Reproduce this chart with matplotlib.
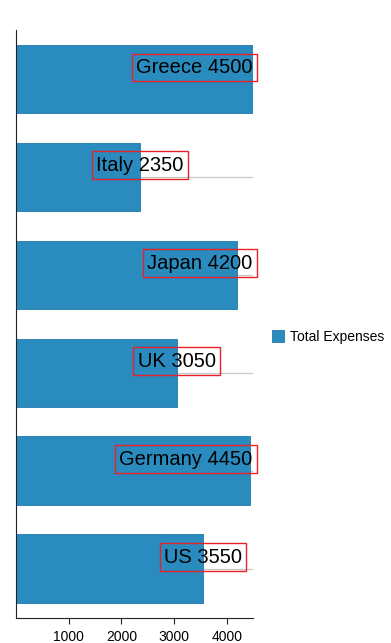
import matplotlib
matplotlib.use("Agg")
import matplotlib.pyplot as plt

# values
countries = ["Greece", "Italy", "Japan", "UK", "Germany", "US"]
expenses = [4500, 2350, 4200, 3050, 4450, 3550]
xticks = [1000, 2000, 3000, 4000]

plt.rcParams['font.family'] = ['Liberation Sans', 'DejaVu Sans']

fig = plt.figure(figsize=(3.91, 6.43), dpi=100)
ax = fig.add_axes([16 / 391, 25.3 / 643, 237 / 391, 587.7 / 643])

pos = list(range(len(countries)))
bar_color = '#2a8bbe'
label_dy = 8.3  # points above the bar centre

# thin grey guide line through each band
for p in pos:
    ax.plot([0, 4500], [p, p], color='#c8c8c8', lw=0.9, zorder=1)

bars = ax.barh(pos, expenses, height=0.7, color=bar_color, edgecolor='#1f78aa',
               linewidth=0.6, zorder=2, label='Total Expenses')

ax.set_xlim(0, 4500)
ax.set_ylim(len(countries) - 0.5, -0.5)
ax.set_yticks([])
ax.set_xticks(xticks)
ax.set_xticklabels([str(t) for t in xticks], fontsize=10)
ax.tick_params(axis='x', direction='out', length=4.5, width=0.8, pad=4, color='#222222')
ax.spines['top'].set_visible(False)
ax.spines['right'].set_visible(False)
ax.spines['left'].set_color('#222222')
ax.spines['bottom'].set_color('#222222')

labels = []
for p, name, val in zip(pos, countries, expenses):
    t = ax.annotate(f"{name} {val}", xy=(val, p), xytext=(0, label_dy), textcoords='offset points',
                    ha='center', va='center', fontsize=14.5, color='black', zorder=4,
                    bbox=dict(boxstyle='square,pad=0.22', fc='none', ec='#e8202a', lw=1))
    labels.append(t)

# keep labels inside the plot area on the right (clamp like the original)
fig.canvas.draw()
renderer = fig.canvas.get_renderer()
right_limit = 257
for t in labels:
    bb = t.get_bbox_patch().get_window_extent(renderer)
    if bb.x1 > right_limit:
        shift = (bb.x1 - right_limit) * 72 / fig.dpi
        t.set_position((-shift, label_dy))

fig.legend(handles=[bars], labels=['Total Expenses'], loc='center left',
           bbox_to_anchor=(266 / 391, 1 - 337 / 643), frameon=False, fontsize=10,
           handlelength=0.9, handleheight=0.9, handletextpad=0.4, borderaxespad=0)

fig.savefig('out.png', dpi=100)
